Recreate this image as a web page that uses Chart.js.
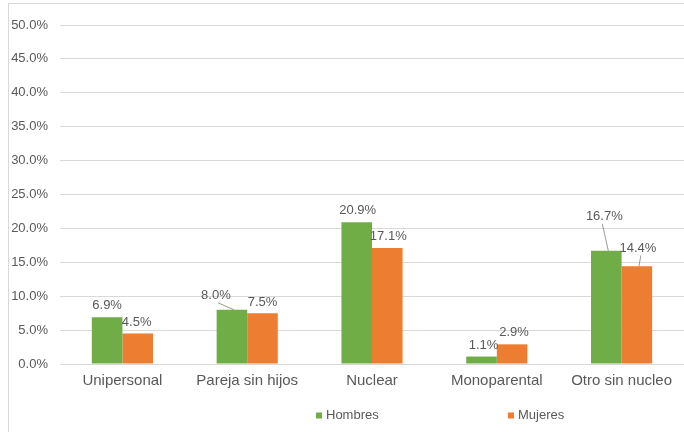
<!DOCTYPE html>
<html>
<head>
<meta charset="utf-8">
<script src="https://cdn.jsdelivr.net/npm/chart.js@4/dist/chart.umd.min.js"></script>
<style>
html,body{margin:0;padding:0;background:#fff;}
#wrap{width:684px;height:432px;position:relative;}
</style>
</head>
<body>
<div id="wrap"><canvas id="c" width="684" height="432"></canvas></div>
<script>
const categories = ['Unipersonal', 'Pareja sin hijos', 'Nuclear', 'Monoparental', 'Otro sin nucleo'];
const hombres = [6.9, 8.0, 20.9, 1.1, 16.7];
const mujeres = [4.5, 7.5, 17.1, 2.9, 14.4];
const seriesNames = ['Hombres', 'Mujeres'];
const yMin = 0, yMax = 50, yStep = 5;

// label placement tweaks (pixels), per dataset, per category: [dx, dy, leaderLine]
const labelTweaks = [
  [[0,-12,false],[-16,-14,true],[1,-11.5,false],[2,-11.5,false],[-2,-34,true]],
  [[-1,-11,false],[0,-11,false],[1,-11.5,false],[2,-11.5,false],[1,-18,true]]
];

const FONT = '"Liberation Sans", Arial, sans-serif';
const TXT = '#595959';

const dataLabels = {
  id: 'dataLabels',
  afterDatasetsDraw(chart) {
    const ctx = chart.ctx;
    ctx.save();
    ctx.font = '13px ' + FONT;
    ctx.fillStyle = TXT;
    ctx.textAlign = 'center';
    ctx.textBaseline = 'middle';
    chart.data.datasets.forEach((ds, di) => {
      const meta = chart.getDatasetMeta(di);
      meta.data.forEach((bar, i) => {
        const t = labelTweaks[di][i];
        const x = bar.x + t[0], y = bar.y + t[1];
        const txt = ds.data[i].toFixed(1) + '%';
        ctx.fillText(txt, x, y);
        if (t[2]) {
          ctx.strokeStyle = '#7f7f7f';
          ctx.lineWidth = 0.8;
          ctx.beginPath();
          if (t[0] < -5) {
            ctx.moveTo(x + 2, y + 7);
            ctx.lineTo(bar.x + 2, bar.y);
          } else {
            ctx.moveTo(x + 1 - (t[1] < -20 ? 3 : -2), y + 7);
            ctx.lineTo(bar.x + 2, bar.y);
          }
          ctx.stroke();
        }
      });
    });
    ctx.restore();
  }
};

const customLegend = {
  id: 'customLegend',
  afterDraw(chart) {
    const ctx = chart.ctx;
    const xs = [316, 508];
    const y = 415.5;
    ctx.save();
    ctx.font = '13px ' + FONT;
    ctx.textBaseline = 'middle';
    ctx.textAlign = 'left';
    chart.data.datasets.forEach((ds, i) => {
      ctx.fillStyle = ds.backgroundColor;
      ctx.fillRect(xs[i], y - 3, 6, 6);
      ctx.fillStyle = TXT;
      ctx.fillText(ds.label, xs[i] + 10, y);
    });
    ctx.restore();
  }
};

const frame = {
  id: 'frame',
  beforeDraw(chart) {
    const ctx = chart.ctx;
    ctx.save();
    ctx.strokeStyle = '#d9d9d9';
    ctx.lineWidth = 1;
    ctx.beginPath();
    ctx.moveTo(8.5, 432);
    ctx.lineTo(8.5, 3.5);
    ctx.lineTo(684, 3.5);
    ctx.stroke();
    ctx.restore();
  }
};

new Chart(document.getElementById('c'), {
  type: 'bar',
  data: {
    labels: categories,
    datasets: [
      { label: seriesNames[0], data: hombres, backgroundColor: '#70AD47', barPercentage: 1, categoryPercentage: 0.49 },
      { label: seriesNames[1], data: mujeres, backgroundColor: '#ED7D31', barPercentage: 1, categoryPercentage: 0.49 }
    ]
  },
  options: {
    responsive: false,
    animation: false,
    devicePixelRatio: 1,
    layout: { padding: { left: 8, right: 0, top: 25, bottom: 0 } },
    plugins: {
      legend: { display: false },
      tooltip: { enabled: false }
    },
    scales: {
      x: {
        grid: { display: false, drawTicks: false },
        border: { display: false },
        ticks: { color: TXT, font: { family: FONT, size: 15 }, padding: 8 },
        afterFit(s) { s.height = 68; }
      },
      y: {
        min: yMin, max: yMax,
        ticks: {
          stepSize: yStep,
          color: TXT,
          font: { family: FONT, size: 13 },
          padding: 12,
          callback: v => v.toFixed(1) + '%'
        },
        grid: { color: '#d9d9d9', drawTicks: false, lineWidth: 1 },
        border: { display: false },
        afterFit(s) { s.width = 52; }
      }
    }
  },
  plugins: [frame, dataLabels, customLegend]
});
</script>
</body>
</html>
